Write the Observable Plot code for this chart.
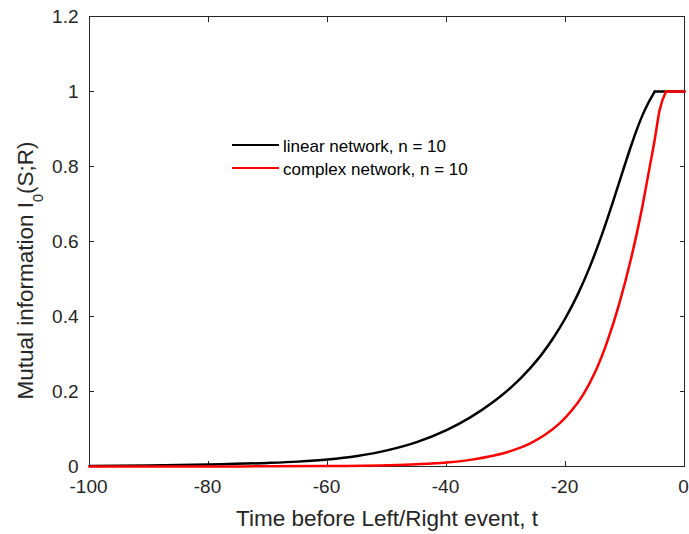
<!DOCTYPE html>
<html><head><meta charset="utf-8">
<script src="https://cdn.jsdelivr.net/npm/d3@7"></script>
<script src="https://cdn.jsdelivr.net/npm/@observablehq/plot@0.6"></script>
<style>
body{margin:0;background:#fff;}
#wrap{position:relative;width:689px;height:534px;font-family:"Liberation Sans",Arial,Helvetica,sans-serif;}
#legend{position:absolute;left:232px;top:133px;}
.row{display:flex;align-items:center;height:23px;}
.sw{width:47px;height:0;border-top:2.5px solid;margin-right:4px;}
.lt{font-size:17px;color:#000;position:relative;top:2px;white-space:nowrap;}
</style></head><body><div id="wrap"></div>
<script>
const xTicks = [-100, -80, -60, -40, -20, 0];
const yTicks = [0, 0.2, 0.4, 0.6, 0.8, 1, 1.2];
const yTickLabels = ["0", "0.2", "0.4", "0.6", "0.8", "1", "1.2"];
const seriesNames = ["linear network, n = 10", "complex network, n = 10"];
const seriesColors = ["#000000", "#ff0000"];
const xLabel = "Time before Left/Right event, t";
const yLabelParts = ["Mutual information I", "0", "(S;R)"];

const tLinear = [-100, -90, -80, -70, -65, -60, -55, -50, -45, -40, -36, -32, -29, -26, -24, -22, -20, -18, -16, -14, -12, -10, -9, -8, -7, -6, -5, 0];
const iLinear = [0.0016, 0.0029, 0.0052, 0.0095, 0.013, 0.0185, 0.028, 0.043, 0.065, 0.097, 0.131, 0.174, 0.213, 0.261, 0.299, 0.344, 0.396, 0.457, 0.529, 0.613, 0.707, 0.806, 0.854, 0.899, 0.939, 0.972, 1.0, 1.0];

const tComplex = [-100, -80, -70, -60, -50, -45, -40, -36, -32, -29, -26, -23.5, -21, -19, -17, -15, -13, -11, -9, -8, -7, -6, -5, -4.2, -3.1, 0];
const iComplex = [0.0001, 0.0002, 0.0005, 0.0012, 0.0035, 0.006, 0.0105, 0.0177, 0.0291, 0.0422, 0.0613, 0.0838, 0.115, 0.1485, 0.1925, 0.2525, 0.3325, 0.4325, 0.5535, 0.623, 0.70, 0.786, 0.872, 0.949, 1.0, 1.0];

const toRows = (t, v) => t.map((x, i) => ({t: x, v: v[i]}));
function split(rows) {
  const k = rows.findIndex(d => d.v >= 1);
  return [rows.slice(0, k + 1), rows.slice(k)];
}
const [linRise, linFlat] = split(toRows(tLinear, iLinear));
const [cpxRise, cpxFlat] = split(toRows(tComplex, iComplex));

const axisColor = "#262626";
const chart = Plot.plot({
  width: 689,
  height: 534,
  marginLeft: 89,
  marginRight: 5,
  marginTop: 16,
  marginBottom: 68,
  style: {fontFamily: "'Liberation Sans', Arial, Helvetica, sans-serif", background: "white", overflow: "visible"},
  x: {domain: [-100, 0], label: null},
  y: {domain: [0, 1.2], label: null},
  marks: [
    Plot.frame({stroke: axisColor, strokeWidth: 1}),
    Plot.axisX(xTicks, {anchor: "bottom", tickSize: 5, dy: -5, fill: "none", stroke: axisColor, label: null}),
    Plot.axisX(xTicks, {anchor: "top", tickSize: 5, dy: 5, fill: "none", stroke: axisColor, label: null}),
    Plot.axisY(yTicks, {anchor: "left", tickSize: 5, dx: 5, fill: "none", stroke: axisColor, label: null}),
    Plot.axisY(yTicks, {anchor: "right", tickSize: 5, dx: -5, fill: "none", stroke: axisColor, label: null}),
    Plot.axisX(xTicks, {anchor: "bottom", tickSize: 0, tickPadding: 13, dx: -1, fontSize: 19, fill: axisColor, label: null, tickFormat: d => String(d)}),
    Plot.axisY(yTicks, {anchor: "left", tickSize: 0, tickPadding: 11, fontSize: 19, fill: axisColor, label: null, tickFormat: d => yTickLabels[yTicks.indexOf(d)]}),
    Plot.text([xLabel], {text: d => d, frameAnchor: "bottom", lineAnchor: "bottom", textAnchor: "middle", dy: 59, fontSize: 22.5, fill: axisColor}),
    Plot.text([yLabelParts.join("")], {text: d => d, frameAnchor: "left", lineAnchor: "bottom", textAnchor: "middle", rotate: -90, dx: -57, dy: 29, fontSize: 22.5, fill: axisColor}),
    Plot.line(linRise, {x: "t", y: "v", stroke: seriesColors[0], strokeWidth: 2.5, curve: "monotone-x"}),
    Plot.line(linFlat, {x: "t", y: "v", stroke: seriesColors[0], strokeWidth: 2.5}),
    Plot.line(cpxRise, {x: "t", y: "v", stroke: seriesColors[1], strokeWidth: 2.5, curve: "monotone-x"}),
    Plot.line(cpxFlat, {x: "t", y: "v", stroke: seriesColors[1], strokeWidth: 2.5})
  ]
});

// subscript in y label
const full = yLabelParts.join("");
chart.querySelectorAll("text").forEach(t => {
  if (t.textContent === full) {
    t.textContent = "";
    t.setAttribute("text-anchor", "middle");
    const ns = "http://www.w3.org/2000/svg";
    const a = document.createElementNS(ns, "tspan"); a.textContent = yLabelParts[0];
    const b = document.createElementNS(ns, "tspan"); b.textContent = yLabelParts[1];
    b.setAttribute("font-size", "14.5"); b.setAttribute("dy", "10");
    const c = document.createElementNS(ns, "tspan"); c.textContent = yLabelParts[2];
    c.setAttribute("dy", "-10");
    t.append(a, b, c);
  }
});

const wrap = document.getElementById("wrap");
wrap.appendChild(chart);
const legend = document.createElement("div");
legend.id = "legend";
seriesNames.forEach((name, i) => {
  const row = document.createElement("div"); row.className = "row";
  const sw = document.createElement("div"); sw.className = "sw"; sw.style.borderTopColor = seriesColors[i];
  const lt = document.createElement("span"); lt.className = "lt"; lt.textContent = name;
  row.append(sw, lt);
  legend.appendChild(row);
});
wrap.appendChild(legend);
</script>
</body></html>
